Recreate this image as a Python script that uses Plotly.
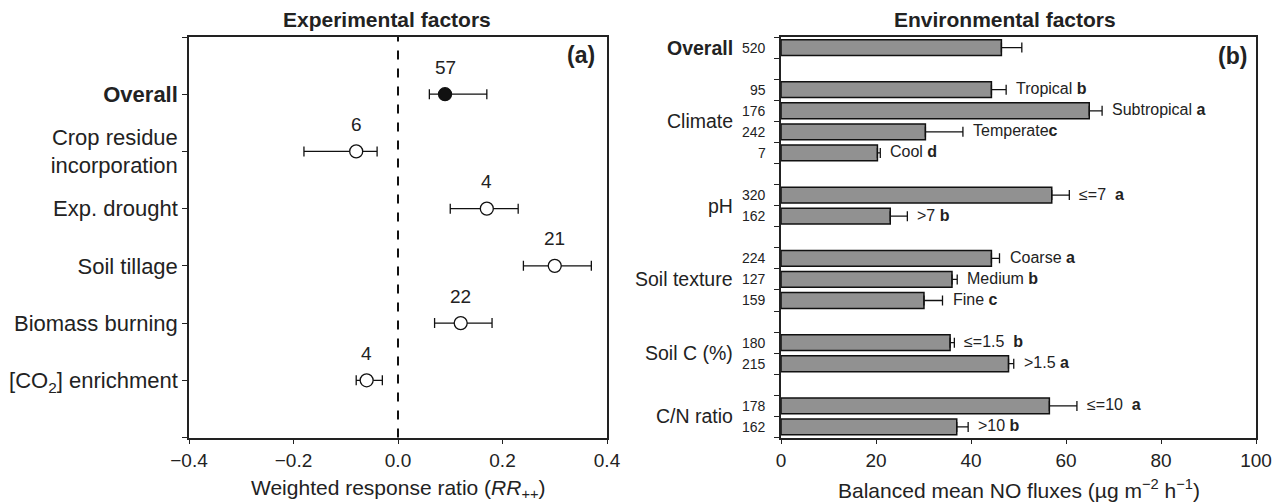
import plotly.graph_objects as go

# ---------------- Panel (a) data ----------------
exp_factors = ["<b>Overall</b>", "Crop residue<br>incorporation", "Exp. drought",
               "Soil tillage", "Biomass burning", "[CO<sub>2</sub>] enrichment"]
exp_rr = [0.09, -0.08, 0.17, 0.30, 0.12, -0.06]
exp_lower = [0.06, -0.18, 0.10, 0.24, 0.07, -0.08]
exp_upper = [0.17, -0.04, 0.23, 0.37, 0.18, -0.03]
exp_n = ["57", "6", "4", "21", "22", "4"]
exp_x_ticks = [-0.4, -0.2, 0.0, 0.2, 0.4]

# ---------------- Panel (b) data ----------------
env_groups = ["<b>Overall</b>", "Climate", "pH", "Soil texture", "Soil C (%)", "C/N ratio"]
env_group_sizes = [1, 4, 2, 3, 2, 2]
env_labels = ["", "Tropical <b>b</b>", "Subtropical <b>a</b>", "Temperate<b>c</b>", "Cool <b>d</b>",
              "\u2264=7  <b>a</b>", "&gt;7 <b>b</b>",
              "Coarse <b>a</b>", "Medium <b>b</b>", "Fine <b>c</b>",
              "\u2264=1.5  <b>b</b>", "&gt;1.5 <b>a</b>",
              "\u2264=10  <b>a</b>", "&gt;10 <b>b</b>"]
env_n = ["520", "95", "176", "242", "7", "320", "162", "224", "127", "159", "180", "215", "178", "162"]
env_mean = [46.4, 44.3, 64.9, 30.4, 20.3, 57.0, 23.0, 44.3, 36.0, 30.1, 35.6, 47.9, 56.5, 37.0]
env_err = [4.3, 3.1, 2.7, 7.9, 0.6, 3.7, 3.6, 1.7, 1.1, 3.9, 0.9, 1.1, 5.8, 2.4]
env_x_ticks = [0, 20, 40, 60, 80, 100]

FONT = "Liberation Sans, Arial, Helvetica, sans-serif"
TXT = "#222222"

# positions: one slot per bar, one empty slot between groups
env_pos = []
group_pos = []
s = 0
for g, size in enumerate(env_group_sizes):
    members = list(range(s, s + size))
    env_pos.extend(members)
    group_pos.append(sum(members) / size)
    s += size + 1
n_slots = env_pos[-1] + 1

exp_pos = list(range(1, len(exp_factors) + 1))

fig = go.Figure()

# Panel (a)
fig.add_trace(go.Scatter(
    x=exp_rr, y=exp_pos, mode="markers",
    marker=dict(size=13, color=["#111111"] + ["white"] * (len(exp_rr) - 1),
                line=dict(color="#111111", width=1.3)),
    error_x=dict(type="data", symmetric=False,
                 array=[u - v for u, v in zip(exp_upper, exp_rr)],
                 arrayminus=[v - l for v, l in zip(exp_rr, exp_lower)],
                 color="#111111", thickness=1.3, width=5),
    xaxis="x", yaxis="y", showlegend=False, cliponaxis=False))

# Panel (b)
fig.add_trace(go.Bar(
    x=env_mean, y=env_pos, orientation="h", width=0.75,
    marker=dict(color="#919191", line=dict(color="#111111", width=1.5)),
    error_x=dict(type="data", symmetric=False, array=env_err,
                 arrayminus=[0] * len(env_err), color="#111111", thickness=1.3, width=5),
    xaxis="x2", yaxis="y2", showlegend=False))

ann = []
# count labels above points (a)
for xv, yv, t in zip(exp_rr, exp_pos, exp_n):
    ann.append(dict(x=xv, y=yv, xref="x", yref="y", text=t, showarrow=False,
                    yshift=27, font=dict(size=19, color=TXT)))
# sample sizes (b)
for yv, t in zip(env_pos, env_n):
    ann.append(dict(x=0, y=yv, xref="x2 domain", yref="y2", text=t, showarrow=False,
                    xanchor="right", xshift=-13, font=dict(size=14, color=TXT)))
# group labels (b)
for yv, t in zip(group_pos, env_groups):
    ann.append(dict(x=0, y=yv, xref="x2 domain", yref="y2", text=t, showarrow=False,
                    xanchor="right", xshift=-46, font=dict(size=19.5, color=TXT)))
# bar labels (b)
for xv, ev, yv, t in zip(env_mean, env_err, env_pos, env_labels):
    if t:
        ann.append(dict(x=xv + ev, y=yv, xref="x2", yref="y2", text=t, showarrow=False,
                        xanchor="left", xshift=8, yshift=1, font=dict(size=16, color=TXT)))
# panel letters
ann.append(dict(x=1, y=1, xref="x domain", yref="y domain", text="<b>(a)</b>", showarrow=False,
                xanchor="right", yanchor="middle", xshift=-10, yshift=-18,
                font=dict(size=23, color=TXT)))
ann.append(dict(x=1, y=1, xref="x2 domain", yref="y2 domain", text="<b>(b)</b>", showarrow=False,
                xanchor="right", yanchor="middle", xshift=-7, yshift=-19,
                font=dict(size=23, color=TXT)))
# panel titles
ann.append(dict(x=387 / 1279, y=1 - 20 / 503, xref="paper", yref="paper",
                text="<b>Experimental factors</b>", showarrow=False,
                xanchor="center", yanchor="middle", font=dict(size=21, color=TXT)))
ann.append(dict(x=1005 / 1279, y=1 - 20 / 503, xref="paper", yref="paper",
                text="<b>Environmental factors</b>", showarrow=False,
                xanchor="center", yanchor="middle", font=dict(size=21, color=TXT)))
# axis titles
ann.append(dict(x=0.5, y=1 - 489 / 503, xref="x domain", yref="paper",
                text="Weighted response ratio (<i>RR</i><sub>++</sub>)", showarrow=False,
                xanchor="center", yanchor="middle", font=dict(size=21, color=TXT)))
ann.append(dict(x=0.5, y=1 - 489 / 503, xref="x2 domain", yref="paper",
                text="Balanced mean NO fluxes (\u00b5g m<sup>\u22122</sup> h<sup>\u22121</sup>)",
                showarrow=False, xanchor="center", yanchor="middle",
                font=dict(size=21, color=TXT)))

ydom = [1 - 437.5 / 503, 1 - 37 / 503]
axis_common = dict(showline=True, linecolor="#222222", linewidth=1.5, mirror=True,
                   ticks="outside", ticklen=5, tickwidth=1.2, tickcolor="#222222",
                   showgrid=False, zeroline=False, automargin=False)

fig.update_layout(
    width=1279, height=503,
    margin=dict(l=0, r=0, t=0, b=0),
    paper_bgcolor="white", plot_bgcolor="white",
    font=dict(family=FONT, color=TXT),
    xaxis=dict(domain=[189 / 1279, 607 / 1279], range=[-0.4, 0.4], anchor="y",
               tickvals=exp_x_ticks, tickformat=".1f", tickfont=dict(size=19), **axis_common),
    yaxis=dict(domain=ydom, range=[len(exp_factors) + 1, 0], anchor="x",
               tickvals=list(range(0, len(exp_factors) + 2)),
               ticktext=["\u200b"] + exp_factors + ["\u200b"], tickfont=dict(size=22), **axis_common),
    xaxis2=dict(domain=[781 / 1279, 1256 / 1279], range=[0, 100], anchor="y2",
                tickvals=env_x_ticks, tickfont=dict(size=19), **axis_common),
    yaxis2=dict(domain=ydom, range=[n_slots - 0.5, -0.5], anchor="x2",
                tickvals=[p - 0.5 for p in range(0, n_slots + 1)],
                showticklabels=False, **axis_common),
    shapes=[dict(type="line", xref="x", yref="y domain", x0=0, x1=0, y0=0, y1=1,
                 line=dict(color="#111111", width=2, dash="dash"))],
    annotations=ann,
)

fig.write_html("out.html")
